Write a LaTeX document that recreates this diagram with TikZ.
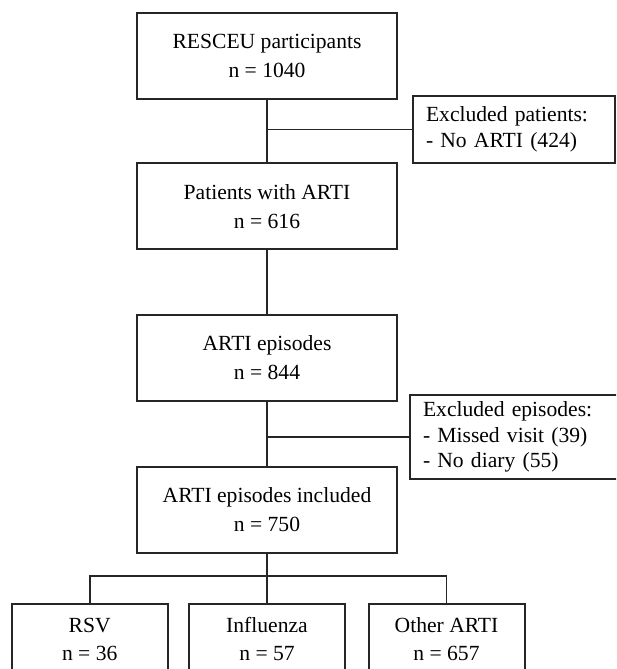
\documentclass[tikz,border=0pt]{standalone}
\usepackage{fontspec}
\setmainfont{Liberation Serif}
\begin{document}
\begin{tikzpicture}[x=0.5pt, y=-0.5pt,
  box/.style={draw=black!85, line width=1pt, fill=white, inner sep=0pt,
    align=center, minimum width=130pt, minimum height=43pt,
    font=\fontsize{10.8}{14.5}\selectfont},
  excl/.style={draw=black!85, line width=1pt, fill=white, inner xsep=6.5pt,
    inner ysep=0pt, align=left, font=\fontsize{10.8}{12.8}\selectfont},
  leaf/.style={box, minimum width=78pt, minimum height=35pt,
    font=\fontsize{10.8}{14}\selectfont},
  link/.style={draw=black!85, line width=0.8pt}]
\useasboundingbox (0,0) rectangle (616,669);
\clip (0,0) rectangle (616,669);

\node[box] (resceu) at (267, 55.5) {RESCEU participants\\n = 1040};
\node[box] (patients) at (267, 206.3) {Patients with ARTI\\n = 616};
\node[box] (episodes) at (267, 358) {ARTI episodes\\n = 844};
\node[box] (included) at (267, 509.5) {ARTI episodes included\\n = 750};

\node[excl, text width=88pt, minimum height=33.3pt] (exclpat) at (514, 129.5)
  {Excluded patients:\\- No ARTI (424)};
\node[excl, text width=92pt, minimum height=42.3pt] (exclepi) at (515, 437)
  {Excluded episodes:\\- Missed visit (39)\\- No diary (55)};

\node[leaf] (rsv) at (89.7, 639) {RSV\\n = 36};
\node[leaf] (flu) at (267, 639) {Influenza\\n = 57};
\node[leaf] (other) at (446.5, 639) {Other ARTI\\n = 657};

\coordinate (split) at (267, 576);

\draw[link] (resceu) -- (patients);
\draw[link] (resceu.south |- exclpat.west) -- (exclpat.west);
\draw[link] (patients) -- (episodes);
\draw[link] (episodes) -- (included);
\draw[link] (episodes.south |- exclepi.west) -- (exclepi.west);
\draw[link] (included) -- (split);
\draw[link] (rsv.north) |- (split) -| (other.north);
\draw[link] (split) -- (flu.north);
\end{tikzpicture}
\end{document}
